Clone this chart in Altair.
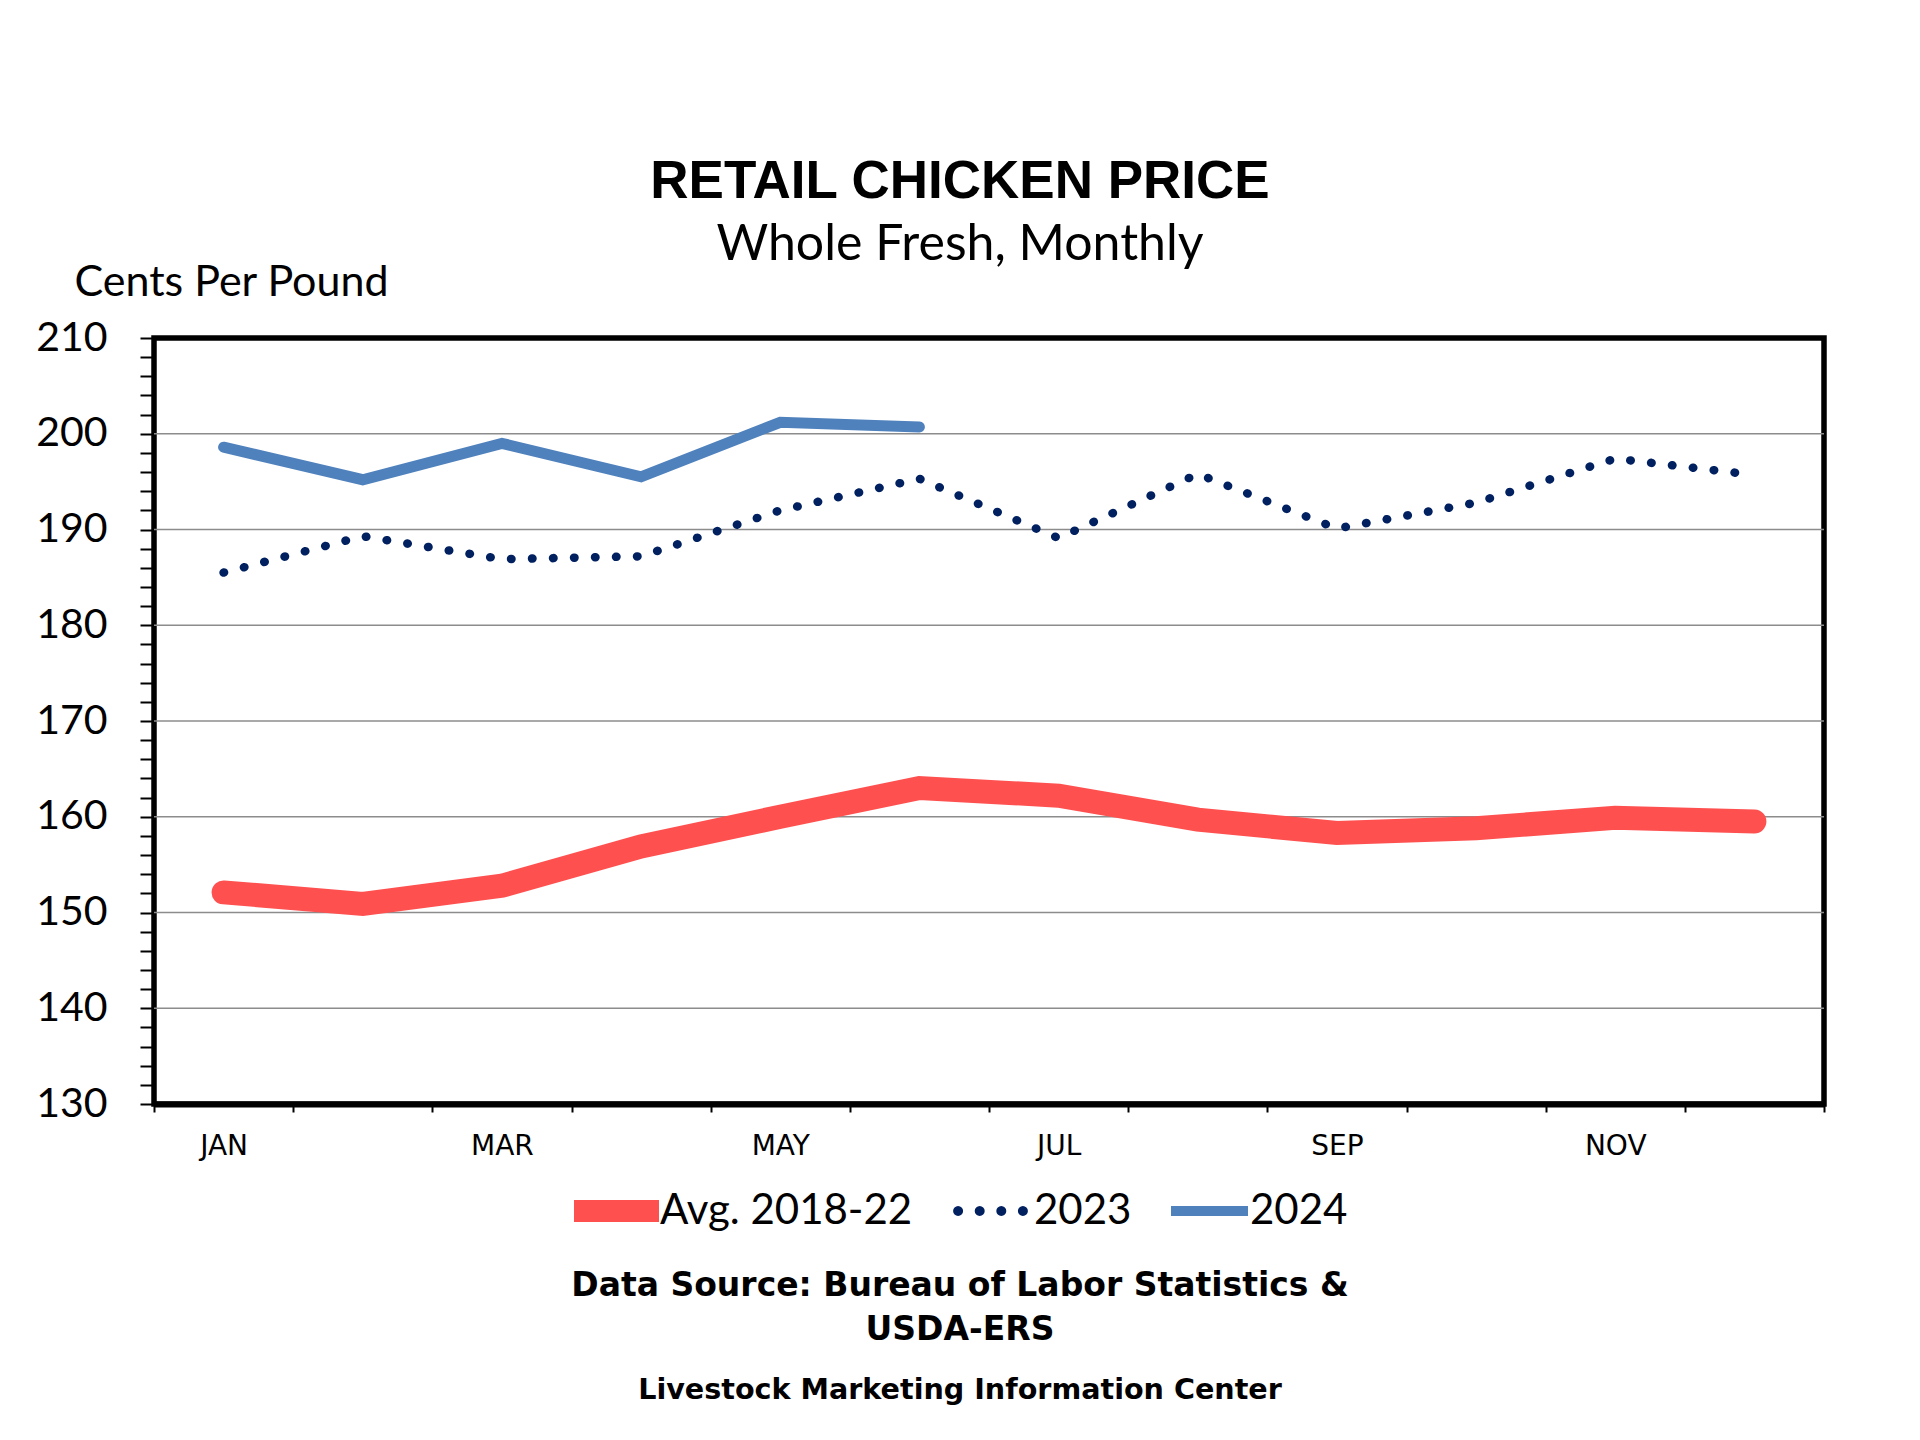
import json
import math
import altair as alt
import pandas as pd

# ---------------- data ----------------
months = ["JAN", "FEB", "MAR", "APR", "MAY", "JUN", "JUL", "AUG", "SEP", "OCT", "NOV", "DEC"]
labeled_months = months[0::2]
avg_2018_22 = [152.1, 150.9, 152.8, 156.9, 160.0, 163.0, 162.2, 159.7, 158.3, 158.8, 159.9, 159.5]
prices_2023 = [185.5, 189.3, 186.9, 187.2, 192.0, 195.3, 189.1, 195.8, 190.1, 192.8, 197.4, 195.7]
prices_2024 = [198.6, 195.2, 199.0, 195.5, 201.2, 200.7]
series_names = ["Avg. 2018-22", "2023", "2024"]
series_colors = ["#FF5050", "#002060", "#4F81BD"]
y_domain = [130, 210]
y_tick_values = list(range(130, 211, 2))
grid_values = list(range(140, 201, 10))

title_text = "RETAIL CHICKEN PRICE"
subtitle_text = "Whole Fresh, Monthly"
y_title = "Cents Per Pound"
source_lines = ["Data Source: Bureau of Labor Statistics &", "USDA-ERS"]
credit_line = "Livestock Marketing Information Center"

# ---------------- helpers ----------------
def series_df(name, values):
    return pd.DataFrame({"month": months[: len(values)], "value": values, "series": name})

x_scale = alt.Scale(type="band", domain=months, paddingInner=0, paddingOuter=0)
y_scale = alt.Scale(domain=y_domain, nice=False, zero=False)

x_axis = alt.Axis(
    title=None,
    tickBand="extent",
    tickSize=8,
    tickWidth=2,
    tickColor="black",
    domainColor="black",
    domainWidth=6,
    grid=False,
    labelAngle=0,
    labelExpr="indexof(" + json.dumps(labeled_months) + ", datum.value) >= 0 ? datum.label : ''",
    labelFont="DejaVu Sans",
    labelFontSize=28,
    labelColor="black",
    labelBaseline="alphabetic",
    labelPadding=42,
    labelOverlap=False,
)

y_axis = alt.Axis(
    values=y_tick_values,
    labelExpr="datum.value % 10 === 0 ? datum.label : ''",
    tickSize=14,
    tickWidth=2,
    tickColor="black",
    domain=False,
    grid=False,
    labelFont="Lato",
    labelFontSize=41,
    labelColor="black",
    labelPadding=33,
    labelOverlap=False,
    title=y_title,
    titleAngle=0,
    titleAlign="left",
    titleBaseline="alphabetic",
    titleX=-80,
    titleY=-43,
    titleFont="Lato",
    titleFontSize=43,
    titleFontWeight="normal",
    titleColor="black",
)

X = alt.X("month:N", sort=months, bandPosition=0.5, scale=x_scale, axis=x_axis)
Y = alt.Y("value:Q", scale=y_scale, axis=y_axis)


def legend(x, y, symbol_type, symbol_len, stroke_width, label_offset, **extra):
    return alt.Legend(
        orient="none",
        legendX=x,
        legendY=y,
        direction="horizontal",
        title=None,
        padding=0,
        labelFont="Lato",
        labelFontSize=42,
        labelColor="black",
        labelOffset={"expr": str(label_offset)},
        labelLimit=800,
        symbolType=symbol_type,
        symbolSize=symbol_len * symbol_len,
        symbolStrokeWidth=stroke_width,
        **extra,
    )


# legend glyph for the dotted series: four round dots (16-gons) in unit symbol space
dot_r = 0.125
dots_path = ""
for cx in [-0.81, -0.27, 0.27, 0.81]:
    pts = [(cx + dot_r * math.cos(2 * math.pi * k / 16), dot_r * math.sin(2 * math.pi * k / 16)) for k in range(16)]
    dots_path += "M" + "L".join(f"{px:.4f},{py:.4f}" for px, py in pts) + "Z"

# ---------------- layers ----------------
grid = alt.Chart(pd.DataFrame({"v": grid_values})).mark_rule(color="#8C8C8C", strokeWidth=1.7).encode(
    y=alt.Y("v:Q", scale=y_scale, axis=y_axis)
)

red = alt.Chart(series_df(series_names[0], avg_2018_22)).mark_line(strokeWidth=24, strokeCap="round").encode(
    x=X,
    y=Y,
    color=alt.Color("series:N", scale=alt.Scale(domain=[series_names[0]], range=[series_colors[0]]),
                    legend=legend(409, 819.5, "stroke", 85, 22, -10)),
)

# 2023: the dotted line itself, and an empty layer that only carries its legend entry
dotted = alt.Chart(series_df(series_names[1], prices_2023)).mark_line(
    strokeWidth=8.5, strokeCap="round", strokeDash=[0.5, 20.5], color=series_colors[1]
).encode(x=X, y=Y)

dotted_key = alt.Chart(series_df(series_names[1], prices_2023)).transform_filter("false").mark_point(
    filled=True
).encode(
    x=X,
    y=Y,
    color=alt.Color("series:N", scale=alt.Scale(domain=[series_names[1]], range=[series_colors[1]]),
                    legend=legend(796.5, 833, dots_path, 80, 0, 3.5,
                                  symbolFillColor=series_colors[1], symbolOpacity=1)),
)

blue = alt.Chart(series_df(series_names[2], prices_2024)).mark_line(strokeWidth=11, strokeCap="round").encode(
    x=X,
    y=Y,
    color=alt.Color("series:N", scale=alt.Scale(domain=[series_names[2]], range=[series_colors[2]]),
                    legend=legend(1012, 829.5, "stroke", 77, 10, -3)),
)


def text_layer(text, y, size):
    return alt.Chart(pd.DataFrame({"t": [text]})).mark_text(
        font="DejaVu Sans", fontSize=size, fontWeight="bold", color="black",
        align="center", baseline="alphabetic",
    ).encode(text="t:N", x=alt.value(806), y=alt.value(y))


foot1 = text_layer(source_lines[0], 958, 33)
foot2 = text_layer(source_lines[1], 1002, 33)
foot3 = text_layer(credit_line, 1061, 28.6)

chart = (
    alt.layer(grid, red, dotted, dotted_key, blue, foot1, foot2, foot3)
    .resolve_scale(color="independent")
    .resolve_legend(color="independent")
    .properties(
        width=1670,
        height=766,
        padding={"left": 146, "top": 330, "right": 88, "bottom": 328},
        autosize=alt.AutoSizeParams(type="none"),
        title=alt.TitleParams(
            text=title_text,
            subtitle=subtitle_text,
            font="Liberation Sans",
            fontSize=53,
            fontWeight="bold",
            color="black",
            subtitleFont="Lato",
            subtitleFontSize=50,
            subtitleColor="black",
            subtitlePadding=11,
            anchor="middle",
            frame="group",
            offset=68,
            dx=-29,
            dy=77,
        ),
    )
    .configure(background="white", view=alt.ViewConfig(stroke="black", strokeWidth=5.5))
)

chart.save("out.html", embed_options={"renderer": "svg", "actions": False})
